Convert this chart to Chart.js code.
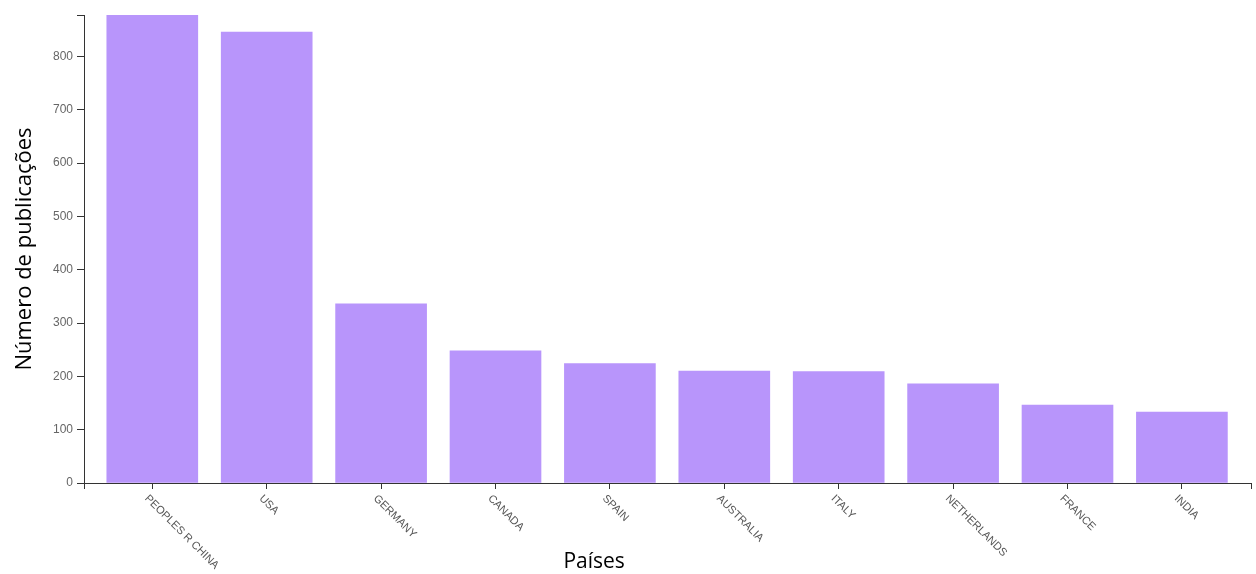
<!DOCTYPE html>
<html><head><meta charset="utf-8">
<script src="https://cdn.jsdelivr.net/npm/chart.js@4.4.1/dist/chart.umd.min.js"></script>
<style>html,body{margin:0;padding:0;background:#fff}#wrap{width:1256px;height:574px;position:relative}</style>
</head><body><div id="wrap"><canvas id="c" width="1256" height="574"></canvas></div>
<script>
const countries = ['PEOPLES R CHINA','USA','GERMANY','CANADA','SPAIN','AUSTRALIA','ITALY','NETHERLANDS','FRANCE','INDIA'];
const publications = [878,846,336,248,224,210,209,186,146,133];
const yTickValues = [0,100,200,300,400,500,600,700,800];
const xTitle = 'Países';
const yTitle = 'Número de publicações';

const axisColor = '#333';

const labelPlugin = {
  id: 'labels',
  afterDraw(chart) {
    const ctx = chart.ctx;
    const xs = chart.scales.x;
    const bottom = chart.chartArea.bottom;
    ctx.save();
    ctx.fillStyle = '#555';
    ctx.font = '11px "Liberation Sans", Arial, sans-serif';
    ctx.textAlign = 'left';
    ctx.textBaseline = 'alphabetic';
    countries.forEach((c, i) => {
      const px = xs.getPixelForValue(i);
      ctx.save();
      ctx.translate(px - 8, bottom + 16);
      ctx.rotate(Math.PI / 4);
      ctx.fillText(c, 0, 0);
      ctx.restore();
    });
    ctx.font = '21px "Open Sans", sans-serif';
    ctx.fillStyle = '#000';
    ctx.textAlign = 'center';
    ctx.textBaseline = 'middle';
    ctx.fillText(xTitle, chart.width * 0.473, 562);
    ctx.restore();
  }
};

new Chart(document.getElementById('c'), {
  type: 'bar',
  data: {
    datasets: [{
      data: publications.map((v, i) => ({x: i, y: v})),
      backgroundColor: '#b895fb',
      borderWidth: 0,
      barThickness: 91
    }]
  },
  options: {
    responsive: false,
    animation: false,
    devicePixelRatio: 1,
    layout: {padding: {top: 15, right: 5, left: 0, bottom: 0}},
    plugins: {legend: {display: false}, tooltip: {enabled: false}},
    scales: {
      x: {
        type: 'linear',
        offset: false,
        min: -0.597,
        max: 9.604,
        afterBuildTicks(scale) {
          scale.ticks = [{value: scale.min}, ...countries.map((_, i) => ({value: i})), {value: scale.max}];
        },
        afterFit(scale) {
          scale.height = 91;
          scale.paddingLeft = 0; scale.paddingRight = 0;
        },
        ticks: {display: false},
        grid: {display: true, offset: false, drawOnChartArea: false, drawTicks: true, tickLength: 6, color: axisColor, lineWidth: 1},
        border: {display: true, color: axisColor, width: 1}
      },
      y: {
        min: 0,
        max: publications[0],
        afterBuildTicks(scale) {
          scale.ticks = [...yTickValues.map(v => ({value: v})), {value: scale.max}];
        },
        afterFit(scale) {
          scale.width = 84;
          scale.paddingTop = 0; scale.paddingBottom = 0;
        },
        ticks: {
          padding: 4,
          color: '#666',
          font: {family: '"Liberation Sans", Arial, sans-serif', size: 12},
          callback: (v) => yTickValues.includes(v) ? String(v) : ''
        },
        grid: {display: true, drawOnChartArea: false, drawTicks: true, tickLength: 7, color: axisColor, lineWidth: 1},
        border: {display: true, color: axisColor, width: 1},
        title: {
          display: true,
          text: yTitle,
          color: '#000',
          font: {family: '"Open Sans", sans-serif', size: 22},
          padding: {top: 12, bottom: 0}
        }
      }
    }
  },
  plugins: [labelPlugin]
});
</script>
</body></html>
